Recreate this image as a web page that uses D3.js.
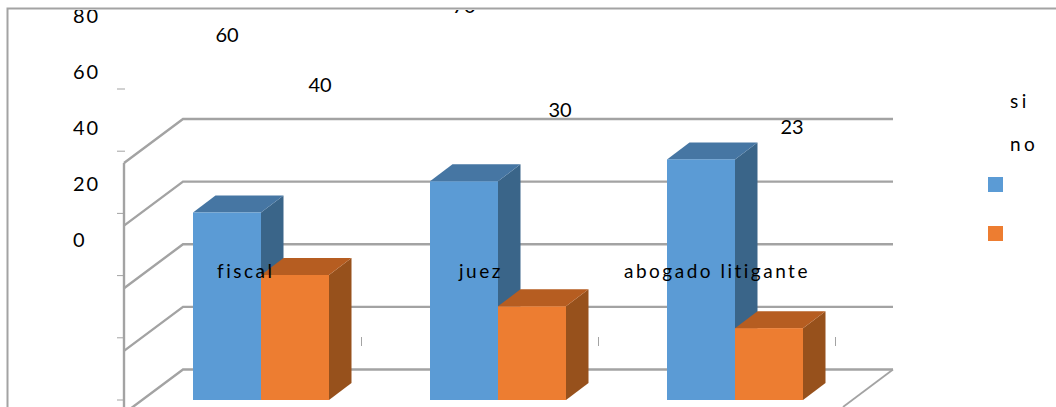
<!DOCTYPE html>
<html lang="es">
<head>
<meta charset="UTF-8">
<script src="https://cdn.jsdelivr.net/npm/d3@7/dist/d3.min.js"></script>
<style>
    html, body { margin: 0; padding: 0; background: #fff; overflow: hidden; }
    text { font-family: Lato, "Open Sans", sans-serif; fill: #000; }
</style>
</head>
<body>
<div id="chart"></div>
<script>
    // Chart values
    const categories = ["fiscal", "juez", "abogado litigante"];
    const seriesNames = ["si", "no"];
    const siValues = [60, 70, 77];
    const noValues = [40, 30, 23];
    const yTicks = [0, 20, 40, 60, 80];
    const seriesColors = {
        si: { front: "#5b9bd5", top: "#4676a3", side: "#3a6589" },
        no: { front: "#ed7d31", top: "#b65d21", side: "#97511c" }
    };

    const WIDTH = 1056;
    const HEIGHT = 407;
    const GRID_COLOR = "#a3a3a3";

    const svg = d3.select("#chart").append("svg")
        .attr("width", WIDTH)
        .attr("height", HEIGHT)
        .style("display", "block");

    // Outer chart frame
    svg.append("path")
        .attr("d", "M7.5,407V8.5H1056")
        .attr("fill", "none")
        .attr("stroke", GRID_COLOR)
        .attr("stroke-width", 2);

    // Everything with text gets cut at the frame top
    svg.append("clipPath").attr("id", "frame")
        .append("rect").attr("x", 0).attr("y", 10).attr("width", WIDTH).attr("height", HEIGHT);

    // SCALES

    // Bars sit on the front plane, gridlines on the back wall
    const barY = d3.scaleLinear().domain([0, 80]).range([400, 150]);
    const wallY = d3.scaleLinear().domain([0, 80]).range([369.5, 119]);
    const catX = d3.scaleBand().domain(categories).range([193, 904]).padding(0);
    const BAR_W = 68;
    const DEPTH_X = 22.5;
    const DEPTH_Y = 17;
    const WALL_X = 183, WALL_RIGHT = 893, SIDE_X = 124, SIDE_Y = 44;

    // Axis labels and data labels are placed on their own offset scales
    const tickLabelY = d3.scaleLinear().domain([0, 80]).range([240, 16]);
    const dataLabelY = d3.scaleLinear().domain([23, 60, 70]).range([127, 35, 6]);

    // WALLS AND GRID

    const grid = svg.append("g")
        .attr("fill", "none")
        .attr("stroke", GRID_COLOR)
        .attr("stroke-width", 2.4);

    grid.selectAll("path.level")
        .data(yTicks)
        .enter()
        .append("path")
        .attr("class", "level")
        .attr("d", d => `M${WALL_RIGHT},${wallY(d)}H${WALL_X}L${SIDE_X},${wallY(d) + SIDE_Y}`);

    // Left wall edge and the floor's right edge
    grid.append("path").attr("d", `M${SIDE_X},${wallY(80) + SIDE_Y}V${HEIGHT}`);
    grid.append("path").attr("d", `M${WALL_RIGHT},${wallY(0)}L${WALL_RIGHT - SIDE_X + 74},${HEIGHT}`)
        .attr("stroke-width", 1.8);

    // Small tick marks on the value axis
    svg.append("g").selectAll("line")
        .data(d3.range(0, 6))
        .enter()
        .append("line")
        .attr("x1", 117).attr("x2", 125)
        .attr("y1", d => 89 + d * 62.2)
        .attr("y2", d => 89 + d * 62.2)
        .attr("stroke", GRID_COLOR)
        .attr("stroke-width", 1);

    // BARS

    function drawBar(g, x, v, colors) {
        const y0 = barY(0), y1 = barY(v);
        g.append("polygon")
            .attr("fill", colors.side)
            .attr("points", [[x + BAR_W, y1], [x + BAR_W + DEPTH_X, y1 - DEPTH_Y], [x + BAR_W + DEPTH_X, y0 - DEPTH_Y], [x + BAR_W, y0]].join(" "));
        g.append("polygon")
            .attr("fill", colors.top)
            .attr("points", [[x, y1], [x + DEPTH_X, y1 - DEPTH_Y], [x + BAR_W + DEPTH_X, y1 - DEPTH_Y], [x + BAR_W, y1]].join(" "));
        g.append("rect")
            .attr("fill", colors.front)
            .attr("x", x).attr("y", y1)
            .attr("width", BAR_W).attr("height", y0 - y1);
    }

    const barGroups = svg.append("g").selectAll("g")
        .data(categories)
        .enter()
        .append("g");

    barGroups.each(function (d, i) {
        const g = d3.select(this);
        drawBar(g, catX(d), siValues[i], seriesColors.si);
        drawBar(g, catX(d) + BAR_W, noValues[i], seriesColors.no);
    });

    // Category tick marks, right of each bar pair
    svg.append("g").selectAll("line")
        .data(categories)
        .enter()
        .append("line")
        .attr("x1", d => catX(d) + 168.5).attr("x2", d => catX(d) + 168.5)
        .attr("y1", 337).attr("y2", 346)
        .attr("stroke", GRID_COLOR)
        .attr("stroke-width", 1);

    // TEXT

    const labels = svg.append("g").attr("clip-path", "url(#frame)");

    labels.selectAll("text.tick")
        .data(yTicks)
        .enter()
        .append("text")
        .attr("class", "tick")
        .attr("x", 73)
        .attr("y", d => tickLabelY(d))
        .attr("dy", "0.35em")
        .attr("font-size", 20)
        .attr("letter-spacing", 2)
        .text(d => d);

    // si labels, the tallest bar's one runs off the top
    labels.selectAll("text.si")
        .data(siValues)
        .enter()
        .append("text")
        .attr("class", "si")
        .attr("x", (d, i) => catX(categories[i]) + 34)
        .attr("y", d => dataLabelY(d))
        .attr("dy", "0.35em")
        .attr("text-anchor", "middle")
        .attr("font-size", 20)
        .text(d => d);

    labels.selectAll("text.no")
        .data(noValues)
        .enter()
        .append("text")
        .attr("class", "no")
        .attr("x", (d, i) => catX(categories[i]) + [127, 130, 125][i])
        .attr("y", d => dataLabelY(d))
        .attr("dy", "0.35em")
        .attr("text-anchor", "middle")
        .attr("font-size", 20)
        .text(d => d);

    labels.selectAll("text.cat")
        .data(categories)
        .enter()
        .append("text")
        .attr("class", "cat")
        .attr("x", (d, i) => catX(d) + [24, 29, -43][i])
        .attr("y", 271)
        .attr("dy", "0.35em")
        .attr("font-size", 19)
        .attr("letter-spacing", 2.5)
        .text(d => d);

    // LEGEND

    const legendNames = svg.append("g");
    legendNames.selectAll("text")
        .data(seriesNames)
        .enter()
        .append("text")
        .attr("x", 1010)
        .attr("y", (d, i) => 101 + i * 43)
        .attr("dy", "0.35em")
        .attr("font-size", 19)
        .attr("letter-spacing", 3.4)
        .text(d => d);

    svg.append("g").selectAll("rect")
        .data(seriesNames)
        .enter()
        .append("rect")
        .attr("x", 988)
        .attr("y", (d, i) => 177 + i * 49)
        .attr("width", 15)
        .attr("height", 15)
        .attr("fill", d => seriesColors[d].front);
</script>
</body>
</html>
